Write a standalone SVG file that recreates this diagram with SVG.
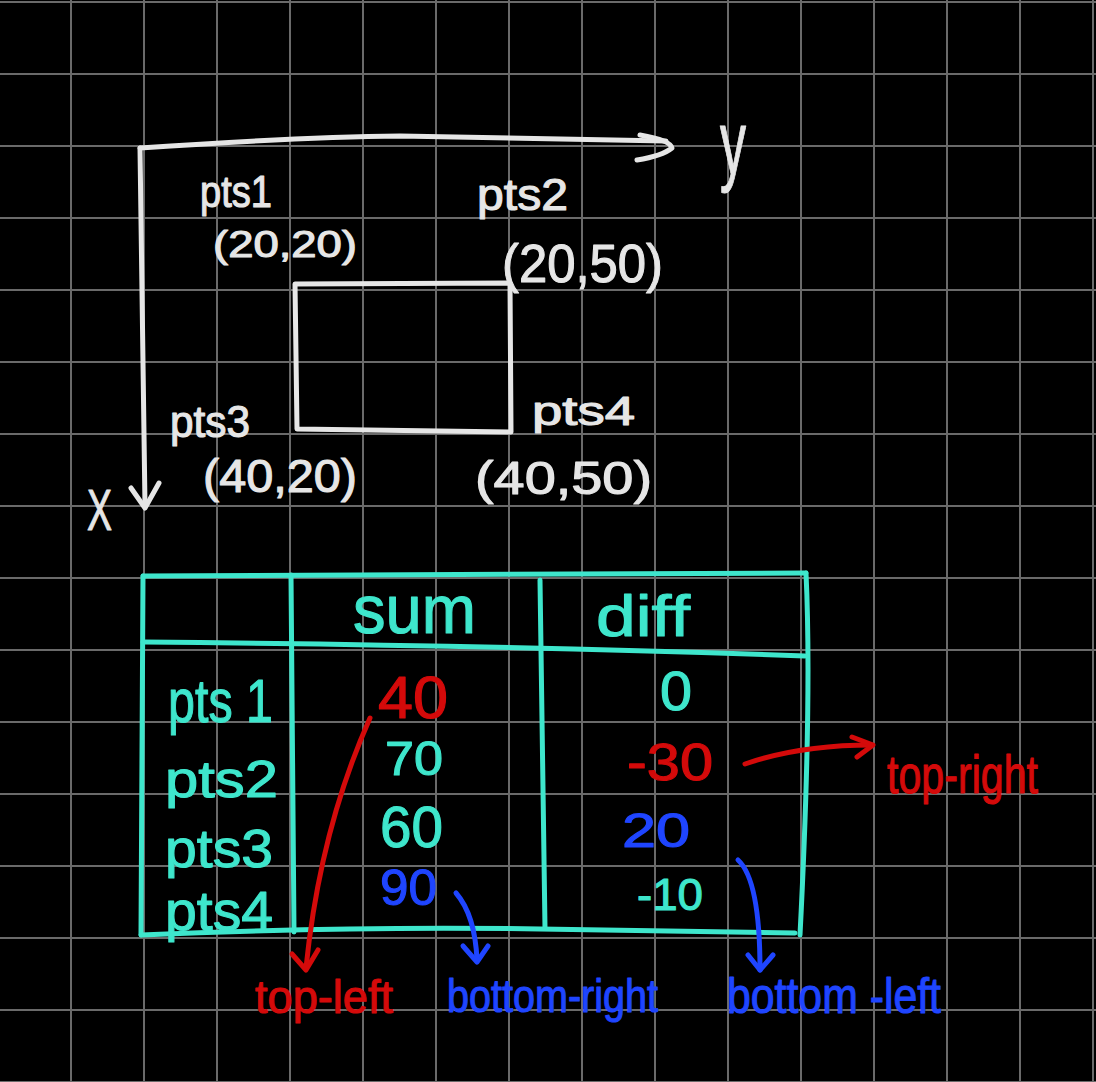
<svg xmlns="http://www.w3.org/2000/svg" width="1096" height="1082" viewBox="0 0 1096 1082">
<style>
.grid{stroke:#6a6a6a;stroke-width:2;fill:none}
.w{stroke:#e6e6e6;stroke-width:5;fill:none;stroke-linecap:round;stroke-linejoin:round}
.tl{stroke:#3ee6cc;stroke-width:5;fill:none;stroke-linecap:round;stroke-linejoin:round}
.ar{stroke-width:5;fill:none;stroke-linecap:round;stroke-linejoin:round}
.red{stroke:#d40a0a}
.blue{stroke:#1f45ff}
text{font-family:"Liberation Sans","DejaVu Sans",sans-serif;stroke-width:1.1;stroke-linejoin:round}
.tw{fill:#e6e6e6;stroke:#e6e6e6}
.tt{fill:#3ee6cc;stroke:#3ee6cc}
.tr{fill:#d40a0a;stroke:#d40a0a}
.tb{fill:#1f45ff;stroke:#1f45ff}
</style>
<rect width="1096" height="1082" fill="#000"/>
<path class="grid" d="M71 0V1082M144 0V1082M217 0V1082M290 0V1082M363 0V1082M436 0V1082M509 0V1082M582 0V1082M655 0V1082M728 0V1082M801 0V1082M874 0V1082M947 0V1082M1020 0V1082M1093 0V1082M0 2H1096M0 74H1096M0 146H1096M0 218H1096M0 290H1096M0 362H1096M0 434H1096M0 506H1096M0 578H1096M0 650H1096M0 722H1096M0 794H1096M0 866H1096M0 938H1096M0 1010H1096M0 1082H1096"/>

<g id="axes">
<path class="w" d="M140 148 Q300 137 400 136 L666 141"/>
<path class="w" d="M640 135 Q670 140 672 148 Q662 156 637 160"/>
<path class="w" d="M140 148 L145 506"/>
<path class="w" d="M131 488 L145 508 L159 483"/>
<text class="tw" x="720" y="174" font-size="90" textLength="26" lengthAdjust="spacingAndGlyphs">y</text>
<text class="tw" x="87" y="530" font-size="58" textLength="25" lengthAdjust="spacingAndGlyphs">X</text>
</g>

<g id="square">
<path class="w" d="M295 284 L510 283 L511 432 L297 429 Z"/>
</g>

<g id="pts1">
<text class="tw" x="200" y="207" font-size="44" textLength="72" lengthAdjust="spacingAndGlyphs">pts1</text>
<text class="tw" x="213" y="257" font-size="36" textLength="144" lengthAdjust="spacingAndGlyphs">(20,20)</text>
</g>
<g id="pts2">
<text class="tw" x="477" y="210" font-size="44" textLength="91" lengthAdjust="spacingAndGlyphs">pts2</text>
<text class="tw" x="502" y="282" font-size="54" textLength="161" lengthAdjust="spacingAndGlyphs">(20,50)</text>
</g>
<g id="pts3">
<text class="tw" x="170" y="437" font-size="44" textLength="80" lengthAdjust="spacingAndGlyphs">pts3</text>
<text class="tw" x="203" y="492" font-size="46" textLength="154" lengthAdjust="spacingAndGlyphs">(40,20)</text>
</g>
<g id="pts4">
<text class="tw" x="532" y="425" font-size="40" textLength="103" lengthAdjust="spacingAndGlyphs">pts4</text>
<text class="tw" x="475" y="494" font-size="46" textLength="177" lengthAdjust="spacingAndGlyphs">(40,50)</text>
</g>

<g id="table">
<path class="tl" d="M143 576 L806 573"/>
<path class="tl" d="M143 576 L141 935"/>
<path class="tl" d="M141 935 Q350 926 540 929 L795 933"/>
<path class="tl" d="M806 573 Q812 700 800 935"/>
<path class="tl" d="M143 642 Q500 645 805 656"/>
<path class="tl" d="M291 575 L294 932"/>
<path class="tl" d="M540 580 L545 928"/>
<text class="tt" x="353" y="633" font-size="68" textLength="123" lengthAdjust="spacingAndGlyphs">sum</text>
<text class="tt" x="596" y="636" font-size="58" textLength="94" lengthAdjust="spacingAndGlyphs">diff</text>
</g>

<g id="row1">
<text class="tt" x="168" y="722" font-size="62" textLength="105" lengthAdjust="spacingAndGlyphs">pts 1</text>
<text class="tr" x="378" y="718" font-size="60" textLength="70" lengthAdjust="spacingAndGlyphs">40</text>
<text class="tt" x="660" y="710" font-size="56" textLength="32" lengthAdjust="spacingAndGlyphs">0</text>
</g>
<g id="row2">
<text class="tt" x="165" y="797" font-size="52" textLength="113" lengthAdjust="spacingAndGlyphs">pts2</text>
<text class="tt" x="385" y="775" font-size="48" textLength="58" lengthAdjust="spacingAndGlyphs">70</text>
<text class="tr" x="627" y="780" font-size="52" textLength="86" lengthAdjust="spacingAndGlyphs">-30</text>
</g>
<g id="row3">
<text class="tt" x="165" y="867" font-size="54" textLength="108" lengthAdjust="spacingAndGlyphs">pts3</text>
<text class="tt" x="380" y="847" font-size="58" textLength="63" lengthAdjust="spacingAndGlyphs">60</text>
<text class="tb" x="622" y="847" font-size="48" textLength="68" lengthAdjust="spacingAndGlyphs">20</text>
</g>
<g id="row4">
<text class="tt" x="165" y="930" font-size="56" textLength="108" lengthAdjust="spacingAndGlyphs">pts4</text>
<text class="tb" x="380" y="905" font-size="50" textLength="57" lengthAdjust="spacingAndGlyphs">90</text>
<text class="tt" x="637" y="910" font-size="45" textLength="66" lengthAdjust="spacingAndGlyphs">-10</text>
</g>

<g id="connectors">
<path class="ar red" d="M370 718 Q320 830 306 968"/>
<path class="ar red" d="M292 954 L306 970 L318 950"/>
<path class="ar red" d="M745 764 Q800 745 872 745"/>
<path class="ar red" d="M852 737 L873 745 L857 757"/>
<path class="ar blue" d="M456 893 Q475 915 477 960"/>
<path class="ar blue" d="M463 946 L477 962 L488 946"/>
<path class="ar blue" d="M738 860 Q760 880 760 970"/>
<path class="ar blue" d="M748 955 L760 970 L773 955"/>
</g>

<g id="label-top-right">
<text class="tr" x="887" y="793" font-size="54" textLength="151" lengthAdjust="spacingAndGlyphs">top-right</text>
</g>
<g id="label-top-left">
<text class="tr" x="255" y="1013" font-size="46" textLength="138" lengthAdjust="spacingAndGlyphs">top-left</text>
</g>
<g id="label-bottom-right">
<text class="tb" x="447" y="1012" font-size="46" textLength="211" lengthAdjust="spacingAndGlyphs">bottom-right</text>
</g>
<g id="label-bottom-left">
<text class="tb" x="727" y="1013" font-size="50" textLength="214" lengthAdjust="spacingAndGlyphs">bottom -left</text>
</g>
</svg>
